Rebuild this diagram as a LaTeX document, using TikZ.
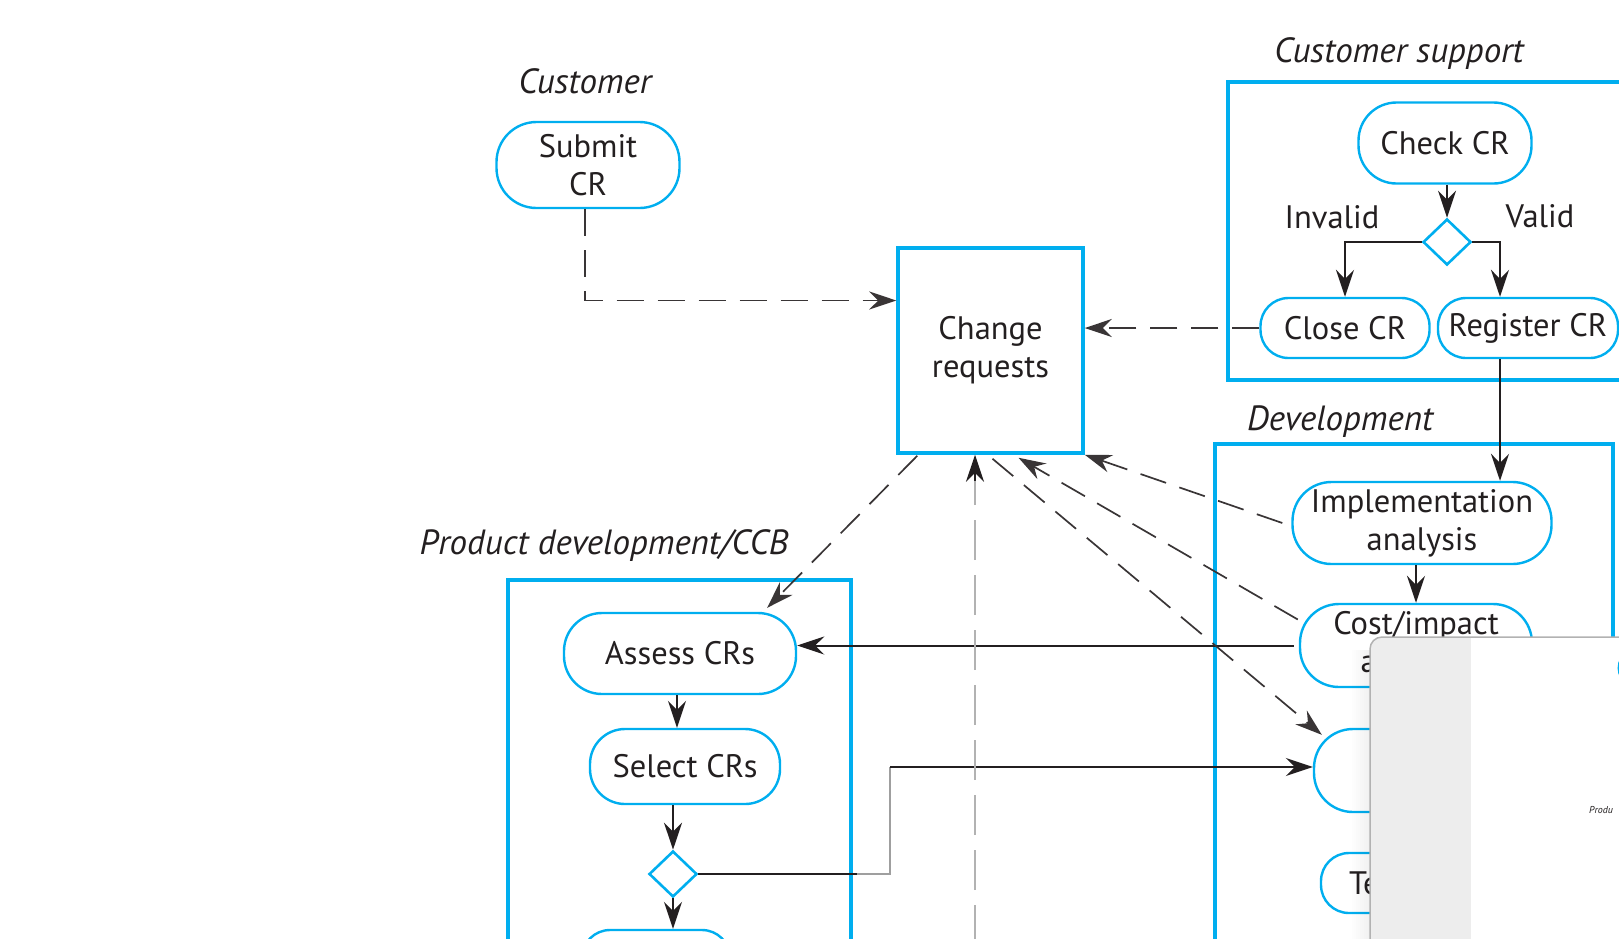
\documentclass[tikz,border=0pt]{standalone}
\usepackage{fontspec}
\setmainfont{PT Sans}
\usetikzlibrary{arrows.meta,calc,shapes.geometric}
\definecolor{cy}{HTML}{00AEEF}
\definecolor{ink}{HTML}{231F20}
\begin{document}
\begin{tikzpicture}[x=1pt,y=-1pt,
  act/.style={draw=cy,line width=2.4pt,rounded corners=30pt,align=center,inner sep=0pt,
    font=\fontsize{32.5}{38}\selectfont,text=ink},
  box/.style={draw=cy,line width=3.5pt,align=center,inner sep=0pt,
    font=\fontsize{32.5}{38}\selectfont,text=ink},
  txt/.style={font=\fontsize{32.5}{38}\selectfont,text=ink,inner sep=0pt},
  lane/.style={draw=cy,line width=3.5pt},
  dia/.style={diamond,draw=cy,line width=2.6pt,minimum width=48pt,minimum height=46pt,inner sep=0pt},
  lab/.style={font=\fontsize{35}{40}\selectfont\itshape,text=ink},
  tip/.style={-{Stealth[length=27pt,width=18pt,inset=9pt]}},
  arr/.style={tip,line width=2pt,draw=ink},
  ln/.style={line width=2pt,draw=ink},
  dsh/.style={line width=1.7pt,draw=ink!90,dash pattern=on 27pt off 14pt},
  dsharr/.style={dsh,tip},
]
\useasboundingbox (0,0) rectangle (1619,938);
\clip (0,0) rectangle (1619,938);

% lane labels
\node[lab] (lcust) at (585,81) {Customer};
\node[lab] (lcs) at (1399,54) {Customer support};
\node[lab] (ldev) at (1340,422) {Development};
\node[lab] (lpd) at (604,546) {Product development/CCB};

% lanes
\draw[lane] (1228,82) rectangle (1680,380);
\draw[lane] (1215,444) rectangle (1613,990);
\draw[lane] (508,580) rectangle (851,990);

% nodes
\node[act,minimum width=183pt,minimum height=86pt,rounded corners=40pt] (submit) at (588,165) {Submit\\CR};
\node[box,minimum width=185pt,minimum height=205pt] (cr) at (990.5,350.5) {Change\\requests};
\node[act,minimum width=173pt,minimum height=81pt,rounded corners=38pt] (check) at (1445,143) {Check CR};
\node[dia] (d1) at (1447,242) {};
\node[txt] (inv) at (1332,217) {Invalid};
\node[txt] (val) at (1540,216) {Valid};
\node[act,minimum width=169pt,minimum height=60pt,rounded corners=28pt] (close) at (1345,328) {Close CR};
\node[act,minimum width=180pt,minimum height=60pt,rounded corners=28pt] (register) at (1528,328) {Register CR};
\node[act,minimum width=259pt,minimum height=82pt,rounded corners=39pt] (impl) at (1422,523) {Implementation\\analysis};
\node[act,minimum width=232pt,minimum height=83pt,rounded corners=39pt] (cost) at (1416,645.5) {Cost/impact\\analysis};
\node[act,minimum width=232pt,minimum height=83pt,rounded corners=39pt] (modify) at (1430,770.5) {};
\node[act,minimum width=230pt,minimum height=60pt,rounded corners=28pt] (test) at (1436,883) {};
\node[txt,anchor=west] (testtxt) at (1349,883) {Test software};
\node[act,minimum width=232pt,minimum height=81pt,rounded corners=38pt] (assess) at (680,653.5) {Assess CRs};
\node[act,minimum width=190pt,minimum height=75pt,rounded corners=35pt] (select) at (685,766.5) {Select CRs};
\node[dia] (d2) at (673,874) {};
\node[act,minimum width=148pt,minimum height=60pt,rounded corners=28pt] (last) at (656,960) {};

% customer support flow
\draw[arr] (check.south -| d1.north) -- (d1.north);
\draw[arr] (d1.west) -| (close.north);
\coordinate (vx) at ($(register.north)+(-28,0)$);
\draw[arr] (d1.east) -| (vx);
\draw[dsharr] (close.west) -- (close.west -| cr.east);
\coordinate (rx) at ($(register.south)+(-28,0)$);
\draw[arr] (rx) -- (rx |- impl.north);

% customer
\coordinate (sc) at ($(cr.west)+(0,-50)$);
\draw[dsharr] ([xshift=-3pt]submit.south) |- (sc);

% development
\draw[arr] (impl.south -| cost.north) -- (cost.north);
\draw[arr] ([xshift=-5pt]cost.west) -- (cost.west -| assess.east);
\draw[dsharr] ([xshift=-9pt]impl.west) -- (cr.south east);
\draw[dsharr] ($(cost.west)+(-1,-26)$) -- ($(cr.south)+(28,3)$);
\draw[dsharr] ($(cr.south)+(2,4)$) -- ($(modify.north west)+(9,7)$);

% CCB
\draw[dsharr] ($(cr.south west)+(21,1)$) -- ($(assess.north east)+(-30,-4)$);
\draw[arr] (assess.south -| 677,0) -- (select.north -| 677,0);
\draw[arr] (select.south -| d2.north) -- (d2.north);
\draw[arr] (d2.south) -- (d2.south |- last.north);
\coordinate (k1) at (857,874);
\coordinate (k2) at (890,874);
\coordinate (k3) at (890,767);
\draw[ln] (d2.east) -- (k1);
\draw[line width=2pt,draw=gray!75] (k1) -- (k2) -- (k3);
\draw[arr] (k3) -- (k3 -| modify.west);
\coordinate (vb) at (975,945);
\coordinate (vt) at ($(vb |- cr.south)+(0,26)$);
\draw[line width=2.2pt,draw=gray!60,dash pattern=on 40pt off 15pt] (vb) -- (vt);
\draw[arr] (vt) -- (vb |- cr.south);

% overlay panel
\foreach \i in {0,...,9}
  \fill[black,opacity=0.006*\i] (1350+2*\i,650) rectangle +(2,340);
\begin{scope}
  \clip[rounded corners=12pt] (1370,637) rectangle (1700,1000);
  \fill[white] (1370,637) rectangle (1700,1000);
  \fill[gray!14] (1370,637) rectangle (1471,1000);
\end{scope}
\draw[gray!60,line width=1.5pt,rounded corners=12pt] (1370,1000) -- (1370,637) -- (1700,637);
\draw[cy,line width=1.5pt] (1621,678) arc[start angle=150,end angle=210,radius=20];
\node[anchor=west,font=\fontsize{10}{12}\selectfont\itshape,text=ink,inner sep=0pt] (tiny) at (1589,810) {Produ};
\end{tikzpicture}
\end{document}
